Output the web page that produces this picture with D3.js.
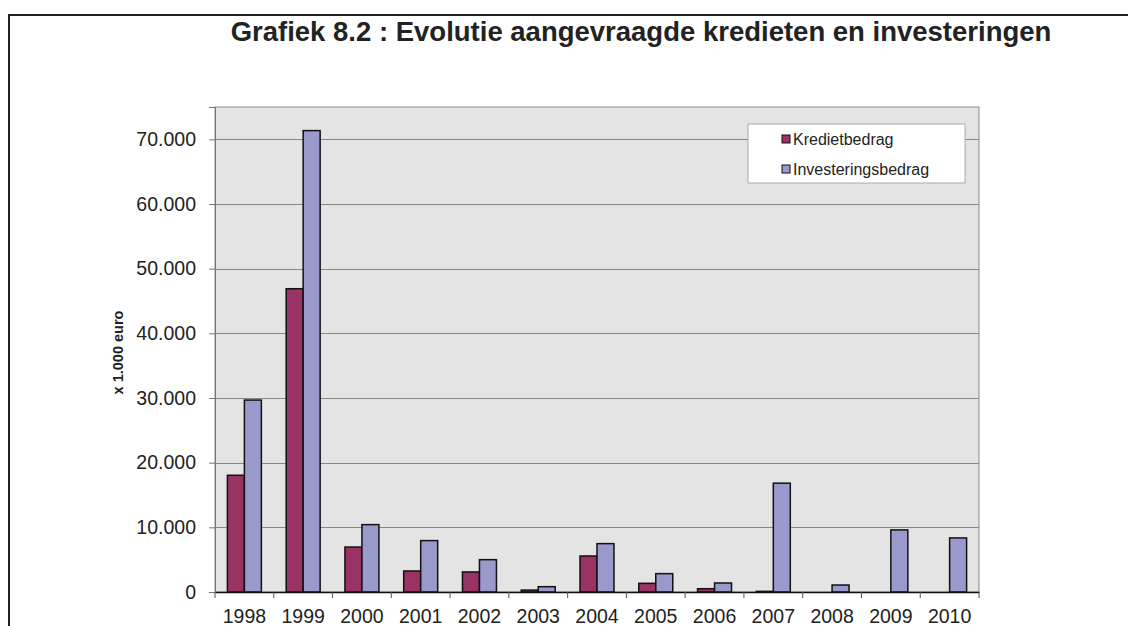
<!DOCTYPE html>
<html>
<head>
<meta charset="utf-8">
<script src="https://cdn.jsdelivr.net/npm/d3@7/dist/d3.min.js"></script>
<style>
  html, body { margin: 0; padding: 0; background: #fff; }
  svg { display: block; font-family: "Liberation Sans", Arial, sans-serif; }
</style>
</head>
<body>
<svg id="chart" width="1128" height="626"></svg>
<script>
const years = ["1998","1999","2000","2001","2002","2003","2004","2005","2006","2007","2008","2009","2010"];
const kredietbedrag = [18050, 46900, 6950, 3250, 3100, 300, 5570, 1340, 510, 100, 0, 0, 0];
const investeringsbedrag = [29680, 71350, 10420, 7950, 5000, 820, 7480, 2840, 1390, 16830, 1080, 9600, 8360];
const seriesNames = ["Kredietbedrag", "Investeringsbedrag"];
const seriesColors = ["#993366", "#9999CC"];
const yTicks = [0, 10000, 20000, 30000, 40000, 50000, 60000, 70000];
const yMax = 75000;
const titleText = "Grafiek 8.2 : Evolutie aangevraagde kredieten en investeringen";
const yAxisTitle = "x 1.000 euro";

const svg = d3.select("#chart");
const plot = { left: 215, right: 979, top: 107, bottom: 592 };

// outer frame (left and top edges visible)
svg.append("path")
  .attr("d", `M9,640 L9,15 L1140,15`)
  .attr("fill", "none").attr("stroke", "#222").attr("stroke-width", 2);

// title
svg.append("text")
  .attr("x", 641).attr("y", 41)
  .attr("text-anchor", "middle")
  .attr("font-weight", "bold").attr("font-size", 27.5)
  .attr("fill", "#222")
  .text(titleText);

const x = d3.scaleBand().domain(years).range([plot.left, plot.right]).paddingInner(0).paddingOuter(0);
const xInner = d3.scaleBand().domain(seriesNames).range([0, x.bandwidth()]).paddingInner(0).paddingOuter(0.73);
const y = d3.scaleLinear().domain([0, yMax]).range([plot.bottom, plot.top]);

// plot background
svg.append("rect")
  .attr("x", plot.left).attr("y", plot.top)
  .attr("width", plot.right - plot.left).attr("height", plot.bottom - plot.top)
  .attr("fill", "#E3E4E3").attr("stroke", "#8a8a8a").attr("stroke-width", 1);

// gridlines
svg.append("g").selectAll("line").data(yTicks.filter(d => d > 0)).join("line")
  .attr("x1", plot.left).attr("x2", plot.right)
  .attr("y1", d => Math.round(y(d)) + 0.5).attr("y2", d => Math.round(y(d)) + 0.5)
  .attr("stroke", "#888").attr("stroke-width", 1);

// y axis
const yAxis = svg.append("g")
  .attr("transform", `translate(${plot.left},0)`)
  .call(d3.axisLeft(y).tickValues(yTicks).tickSize(6).tickPadding(13)
    .tickFormat(d => d === 0 ? "0" : d3.format(",")(d).replace(/,/g, ".")));
yAxis.select(".domain").attr("stroke", "#777");
yAxis.selectAll(".tick line").attr("stroke", "#777");
yAxis.selectAll(".tick text")
  .attr("font-size", 19.5).attr("fill", "#222")
  .attr("font-family", "'Liberation Sans', Arial, sans-serif");

// y axis title
svg.append("text")
  .attr("transform", `translate(123,${(plot.top + plot.bottom) / 2 + 3}) rotate(-90)`)
  .attr("text-anchor", "middle")
  .attr("font-weight", "bold").attr("font-size", 14.5)
  .attr("fill", "#222")
  .text(yAxisTitle);

// bars
const data = years.map((yr, i) => ({ year: yr, values: [
  { name: seriesNames[0], value: kredietbedrag[i], color: seriesColors[0] },
  { name: seriesNames[1], value: investeringsbedrag[i], color: seriesColors[1] }
]}));

svg.append("g").selectAll("g").data(data).join("g")
  .attr("transform", d => `translate(${x(d.year)},0)`)
  .selectAll("rect").data(d => d.values.filter(v => v.value > 0)).join("rect")
  .attr("x", v => xInner(v.name))
  .attr("y", v => y(v.value))
  .attr("width", xInner.bandwidth())
  .attr("height", v => plot.bottom - y(v.value))
  .attr("fill", v => v.color)
  .attr("stroke", "#111").attr("stroke-width", 1.5);

// x axis
const xAxis = svg.append("g")
  .attr("transform", `translate(0,${plot.bottom})`)
  .call(d3.axisBottom(x).tickSize(0).tickPadding(17));
xAxis.select(".domain").attr("stroke", "#111").attr("stroke-width", 1.5);
xAxis.selectAll(".tick text")
  .attr("font-size", 19.5).attr("fill", "#222")
  .attr("font-family", "'Liberation Sans', Arial, sans-serif");
// category separator ticks
svg.append("g").selectAll("line").data(years.concat(["end"])).join("line")
  .attr("x1", (d, i) => plot.left + i * x.step()).attr("x2", (d, i) => plot.left + i * x.step())
  .attr("y1", plot.bottom).attr("y2", plot.bottom + 6)
  .attr("stroke", "#555").attr("stroke-width", 1);

// legend
const legend = svg.append("g").attr("transform", "translate(748,124)");
legend.append("rect").attr("width", 217).attr("height", 59)
  .attr("fill", "#fff").attr("stroke", "#aaa").attr("stroke-width", 1);
const items = legend.selectAll("g").data(seriesNames).join("g")
  .attr("transform", (d, i) => `translate(34,${15 + i * 30})`);
items.append("rect").attr("x", 0).attr("y", -4).attr("width", 8).attr("height", 8)
  .attr("fill", (d, i) => seriesColors[i]).attr("stroke", "#111").attr("stroke-width", 1);
items.append("text").attr("x", 11).attr("y", 6)
  .attr("font-size", 16).attr("fill", "#222")
  .text(d => d);
</script>
</body>
</html>
